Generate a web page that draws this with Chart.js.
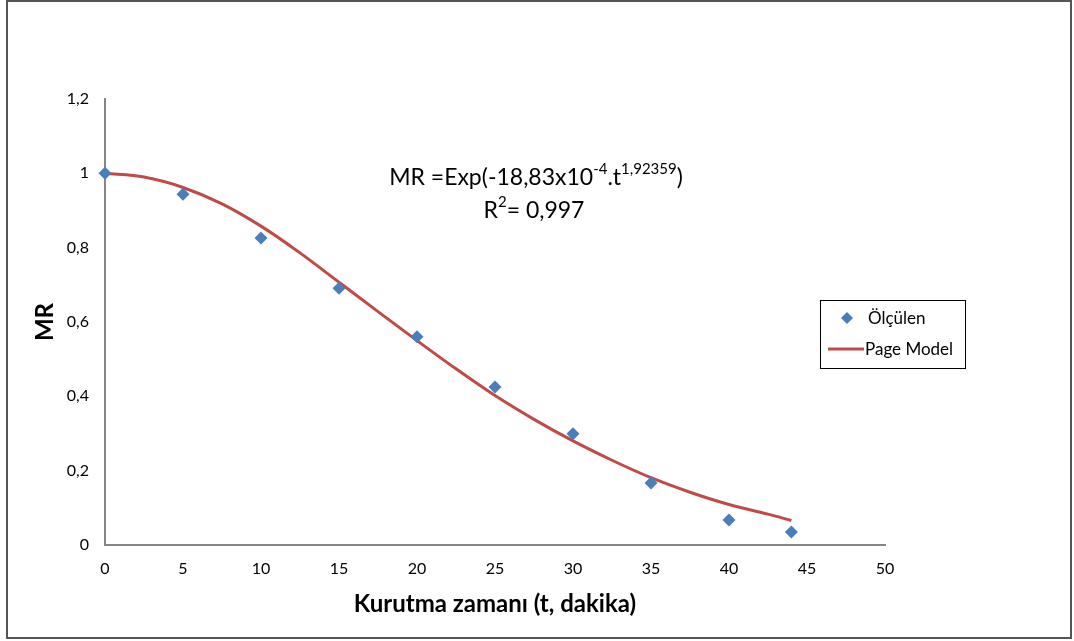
<!DOCTYPE html>
<html>
<head>
<meta charset="utf-8">
<script src="https://cdn.jsdelivr.net/npm/chart.js@4/dist/chart.umd.min.js"></script>
<style>
  html, body { margin: 0; padding: 0; background: #fff; }
  #wrap { width: 1074px; height: 641px; position: relative; }
</style>
</head>
<body>
<div id="wrap"><canvas id="myChart" width="1074" height="641"></canvas></div>
<script>
// measured points
const olcT = [0, 5, 10, 15, 20, 25, 30, 35, 40, 44];
const olcMR = [1.0, 0.944, 0.826, 0.691, 0.560, 0.425, 0.299, 0.167, 0.067, 0.035];

// Page model curve
const modelT = [0, 2.5, 5, 7.5, 10, 12.5, 15, 17.5, 20, 22.5, 25, 27.5, 30, 32.5, 35, 37.5, 40, 42.5, 44];
const modelMR = [1.0, 0.990, 0.962, 0.918, 0.858, 0.786, 0.707, 0.628, 0.550, 0.474, 0.402, 0.338, 0.280, 0.228, 0.181, 0.142, 0.109, 0.083, 0.066];

const xTicks = [0, 5, 10, 15, 20, 25, 30, 35, 40, 45, 50];
const yTicks = [0, 0.2, 0.4, 0.6, 0.8, 1, 1.2];

const FONT = 'Lato, "Open Sans", sans-serif';

const frame = {
    id: 'frame',
    beforeDraw(chart) {
        const c = chart.ctx;
        c.save();
        c.fillStyle = '#fff';
        c.fillRect(0, 0, chart.width, chart.height);
        c.strokeStyle = '#555';
        c.lineWidth = 2;
        c.strokeRect(7, 1, 1064, 637);
        c.restore();
    },
    afterDraw(chart) {
        const c = chart.ctx;
        c.save();
        c.fillStyle = '#000';
        c.textBaseline = 'middle';

        // equation text
        function line(parts, cx, cy) {
            let w = 0;
            parts.forEach(p => {
                c.font = (p.sup ? '15px ' : '23px ') + FONT;
                p.w = c.measureText(p.t).width;
                w += p.w;
            });
            let x = cx - w / 2;
            parts.forEach(p => {
                c.font = (p.sup ? '15px ' : '23px ') + FONT;
                c.textAlign = 'left';
                c.fillText(p.t, x, p.sup ? cy - 9 : cy);
                x += p.w;
            });
        }
        line([{t: 'MR =Exp(-18,83x10'}, {t: '-4', sup: true}, {t: '.t'}, {t: '1,92359', sup: true}, {t: ')'}], 536, 178);
        line([{t: 'R'}, {t: '2', sup: true}, {t: '= 0,997'}], 534, 211);

        // legend box
        const ds = chart.data.datasets;
        c.strokeStyle = '#000';
        c.lineWidth = 1;
        c.strokeRect(820.5, 300.5, 145, 68);
        c.font = '17px ' + FONT;
        c.textAlign = 'left';
        // diamond
        c.fillStyle = ds[0].backgroundColor;
        c.beginPath();
        c.moveTo(847, 312); c.lineTo(853, 318); c.lineTo(847, 324); c.lineTo(841, 318);
        c.closePath();
        c.fill();
        c.fillStyle = '#000';
        c.fillText(ds[0].label, 868, 319);
        // line
        c.strokeStyle = ds[1].borderColor;
        c.lineWidth = 3;
        c.beginPath();
        c.moveTo(828, 349); c.lineTo(864, 349);
        c.stroke();
        c.fillText(ds[1].label, 865, 350);
        c.restore();
    }
};

const fmt = v => (Math.round(v * 10) / 10).toString().replace('.', ',');

const ctx = document.getElementById('myChart');
const myChart = new Chart(ctx, {
    type: 'scatter',
    data: {
        datasets: [{
            label: 'Ölçülen',
            data: olcT.map((t, i) => ({x: t, y: olcMR[i]})),
            backgroundColor: '#4A7EBB',
            borderColor: '#4A7EBB',
            pointStyle: 'rectRot',
            pointRadius: 6.5,
            pointBorderWidth: 0,
            clip: false,
            order: 0
        },
        {
            label: 'Page Model',
            type: 'line',
            data: modelT.map((t, i) => ({x: t, y: modelMR[i]})),
            borderColor: '#BE4B48',
            backgroundColor: '#BE4B48',
            borderWidth: 3,
            pointRadius: 0,
            cubicInterpolationMode: 'monotone',
            fill: false,
            clip: false,
            order: 1
        }]
    },
    options: {
        responsive: false,
        animation: false,
        layout: {
            padding: {left: 0, top: 99, right: 189, bottom: 0}
        },
        scales: {
            x: {
                type: 'linear',
                min: 0,
                max: 50,
                afterBuildTicks: s => { s.ticks = xTicks.map(v => ({value: v})); },
                afterFit: s => { s.height = 96; },
                grid: { display: false, drawTicks: false },
                border: { display: true, color: '#868686', width: 2 },
                ticks: {
                    color: '#000',
                    padding: 14,
                    font: { family: FONT, size: 16 }
                },
                title: {
                    display: true,
                    text: 'Kurutma zamanı (t, dakika)',
                    color: '#000',
                    font: { family: FONT, size: 24, weight: 'bold' },
                    padding: { top: 0, bottom: 22 }
                }
            },
            y: {
                min: 0,
                max: 1.2,
                afterBuildTicks: s => { s.ticks = yTicks.map(v => ({value: v})); },
                afterFit: s => { s.width = 105; },
                grid: { display: false, drawTicks: false },
                border: { display: true, color: '#868686', width: 2 },
                ticks: {
                    color: '#000',
                    padding: 16,
                    font: { family: FONT, size: 16 },
                    callback: v => fmt(v)
                },
                title: {
                    display: true,
                    text: 'MR',
                    color: '#000',
                    font: { family: FONT, size: 24, weight: 'bold' },
                    padding: { top: 31, bottom: 0 }
                }
            }
        },
        plugins: {
            legend: { display: false },
            tooltip: { enabled: false }
        }
    },
    plugins: [frame]
});
</script>
</body>
</html>
